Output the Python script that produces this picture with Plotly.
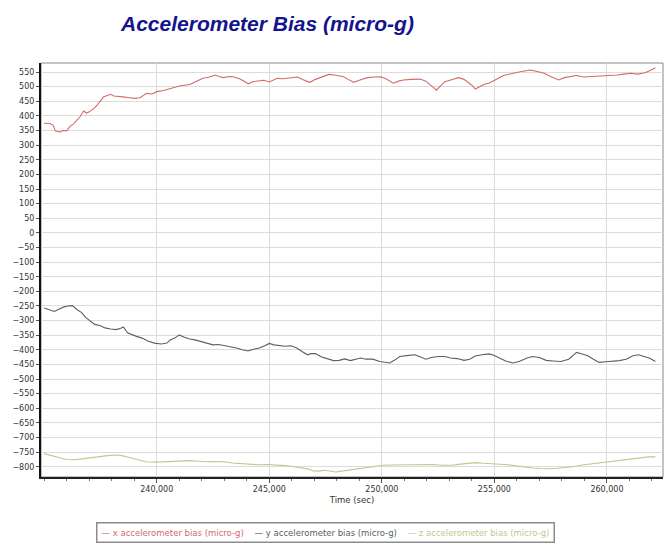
import plotly.graph_objects as go

# x accelerometer bias
x_time = [235000, 235250, 235400, 235500, 235700, 235850, 236000, 236150, 236300, 236450,
          236600, 236750, 236880, 237000, 237200, 237350, 237500, 237650, 237800, 237950,
          238100, 238250, 238500, 238800, 239000, 239250, 239400, 239550, 239800, 240000,
          240300, 240600, 240850, 241050, 241300, 241500, 241750, 242050, 242300, 242600,
          242800, 242960, 243200, 243400, 243700, 243900, 244070, 244250, 244450, 244750,
          245000, 245200, 245350, 245600, 245800, 246000, 246250, 246500, 246800, 247050,
          247250, 247450, 247650, 247900, 248300, 248500, 248750, 249000, 249350, 249650,
          249950, 250200, 250500, 250750, 250950, 251300, 251700, 251950, 252150, 252300,
          252420, 252600, 252800, 253100, 253400, 253650, 253850, 254000, 254150, 254350,
          254550, 254750, 254950, 255200, 255400, 255650, 255850, 256200, 256600, 256900,
          257200, 257500, 257850, 258100, 258400, 258650, 258950, 259250, 259550, 259850,
          260150, 260450, 260750, 261050, 261350, 261650, 261850, 262150]
x_bias = [375, 374, 368, 348, 345, 350, 349, 365, 372, 386,
          398, 417, 410, 414, 425, 437, 452, 466, 470, 474,
          468, 466, 465, 462, 460, 462, 470, 477, 475, 483,
          487, 494, 500, 503, 506, 508, 518, 529, 532, 540,
          534, 531, 535, 534, 526, 516, 510, 517, 519, 522,
          516, 524, 529, 527, 529, 531, 533, 524, 515, 525,
          531, 537, 542, 540, 534, 525, 515, 522, 531, 533,
          534, 526, 512, 519, 523, 525, 526, 519, 508, 497,
          488, 503, 517, 524, 531, 525, 515, 505, 492, 500,
          508, 512, 519, 530, 538, 541, 546, 552, 557, 552,
          546, 535, 523, 531, 534, 538, 533, 534, 536, 538,
          537, 540, 543, 546, 543, 547, 553, 565]

# y accelerometer bias
y_time = [235000, 235200, 235450, 235650, 235850, 236050, 236250, 236450, 236650, 236850,
          237050, 237250, 237500, 237700, 237950, 238200, 238400, 238520, 238700, 238900,
          239100, 239350, 239600, 239900, 240200, 240450, 240600, 240800, 241000, 241200,
          241450, 241700, 241950, 242200, 242500, 242750, 243050, 243300, 243550, 243800,
          244050, 244300, 244550, 244800, 245000, 245200, 245450, 245700, 245950, 246200,
          246450, 246700, 246850, 247050, 247300, 247600, 247850, 248100, 248350, 248600,
          248850, 249050, 249300, 249600, 249900, 250100, 250350, 250550, 250800, 251100,
          251450, 251700, 251950, 252200, 252500, 252800, 253050, 253350, 253650, 253900,
          254150, 254450, 254750, 254950, 255250, 255500, 255800, 256100, 256450, 256700,
          257000, 257300, 257600, 257950, 258300, 258650, 258900, 259150, 259400, 259650,
          259950, 260250, 260550, 260850, 261150, 261400, 261650, 261900, 262150]
y_bias = [-257, -262, -269, -261, -254, -250, -249, -262, -272, -290,
          -301, -313, -318, -325, -329, -331, -326, -322, -342, -349,
          -354, -360, -370, -377, -380, -377, -366, -360, -349, -356,
          -363, -366, -371, -375, -383, -382, -386, -389, -394, -400,
          -404, -398, -394, -386, -378, -383, -386, -388, -386, -393,
          -406, -417, -413, -413, -424, -432, -437, -436, -431, -437,
          -432, -428, -432, -432, -440, -443, -445, -436, -423, -420,
          -417, -424, -432, -426, -423, -423, -428, -430, -436, -432,
          -421, -417, -414, -418, -428, -438, -445, -440, -428, -423,
          -426, -436, -438, -440, -432, -409, -414, -420, -432, -443,
          -441, -440, -437, -432, -420, -417, -424, -429, -440]

# z accelerometer bias
z_time = [235000, 235300, 235650, 236000, 236300, 236700, 237050, 237450, 237800, 238150,
          238450, 238800, 239150, 239500, 240000, 240350, 240700, 241100, 241450, 241850,
          242200, 242600, 243000, 243350, 243700, 244100, 244500, 244900, 245300, 245700,
          246050, 246400, 246750, 246950, 247200, 247450, 247700, 247950, 248300, 248650,
          249000, 249350, 249700, 250050, 250450, 250900, 251350, 251800, 252250, 252700,
          253100, 253500, 253900, 254200, 254500, 254850, 255200, 255600, 255950, 256300,
          256700, 257050, 257400, 257800, 258150, 258550, 258900, 259300, 259700, 260050,
          260450, 260800, 261150, 261500, 261850, 262150]
z_bias = [-755, -760, -768, -775, -776, -773, -769, -766, -762, -760,
          -762, -768, -776, -783, -784, -783, -781, -780, -779, -781,
          -783, -782, -783, -787, -789, -792, -793, -792, -793, -796,
          -799, -803, -808, -814, -815, -812, -816, -818, -814, -810,
          -806, -801, -797, -795, -794, -793, -792, -793, -792, -795,
          -795, -791, -789, -786, -788, -790, -790, -793, -797, -801,
          -804, -806, -807, -805, -803, -799, -794, -790, -786, -782,
          -779, -776, -771, -769, -766, -766]

x_ticks = [240000, 245000, 250000, 255000, 260000]

x_color = "#d46a6a"
y_color = "#56625f"
z_color = "#b9cc8c"

fig = go.Figure()
series = [
    ("x accelerometer bias (micro-g)", x_time, x_bias, x_color),
    ("y accelerometer bias (micro-g)", y_time, y_bias, y_color),
    ("z accelerometer bias (micro-g)", z_time, z_bias, z_color),
]
legend_parts = []
for name, t, v, c in series:
    fig.add_trace(go.Scatter(
        x=t, y=v, mode="lines",
        line=dict(color=c, width=1.1),
        name=name,
    ))
    legend_parts.append(f"<span style='color:{c}'>—&nbsp;{name}</span>")

# compact legend like the original (short line sample + coloured label)
legend_text = "&nbsp;&nbsp;&nbsp;&nbsp;".join(legend_parts)

fig.update_layout(
    width=668, height=550,
    margin=dict(l=41, r=5, t=63, b=73, autoexpand=False),
    paper_bgcolor="white", plot_bgcolor="white",
    font=dict(family="DejaVu Sans", size=8, color="#333333"),
    showlegend=False,
    annotations=[
        dict(
            text="<b><i>Accelerometer Bias (micro-g)</i></b>",
            x=(267 - 41) / 622, xref="paper", y=1 + (63 - 23) / 414, yref="paper",
            yanchor="middle", showarrow=False,
            font=dict(family="Liberation Sans", size=21, color="#14148c"),
        ),
        dict(
            text=legend_text,
            x=(325 - 41) / 622, xref="paper", y=(477 - 532.5) / 414, yref="paper",
            xanchor="center", yanchor="middle", showarrow=False,
            bordercolor="#8c8c8c", borderwidth=1.5, borderpad=4, bgcolor="white",
            font=dict(family="DejaVu Sans", size=8.5),
        ),
    ],
)

fig.update_xaxes(
    range=[234858, 262489],
    tickvals=x_ticks, tickformat=",d",
    showgrid=True, gridcolor="#dcdcdc", gridwidth=1,
    zeroline=False, automargin=False,
    showline=True, linecolor="#222222", linewidth=1.5,
    ticks="outside", ticklen=4, tickcolor="#555555",
    minor=dict(dtick=1000, tick0=240000, ticks="outside", ticklen=2, tickcolor="#777777",
               showgrid=False),
    title=dict(text="Time (sec)", font=dict(size=8.5), standoff=4),
)
fig.update_yaxes(
    range=[-835, 581],
    tick0=0, dtick=50,
    showgrid=True, gridcolor="#dcdcdc", gridwidth=1,
    zeroline=False, automargin=False,
    showline=True, linecolor="#111111", linewidth=2,
    ticks="outside", ticklen=3, tickcolor="#555555",
)

fig.add_shape(type="rect", xref="paper", yref="paper", x0=0, y0=0, x1=1, y1=1,
              line=dict(color="#888888", width=1), layer="below")

# page body has a default 8px margin; drop it so the figure fills the window
fig.write_html("out.html", config={"displayModeBar": False},
               post_script="document.body.style.margin='0';")
